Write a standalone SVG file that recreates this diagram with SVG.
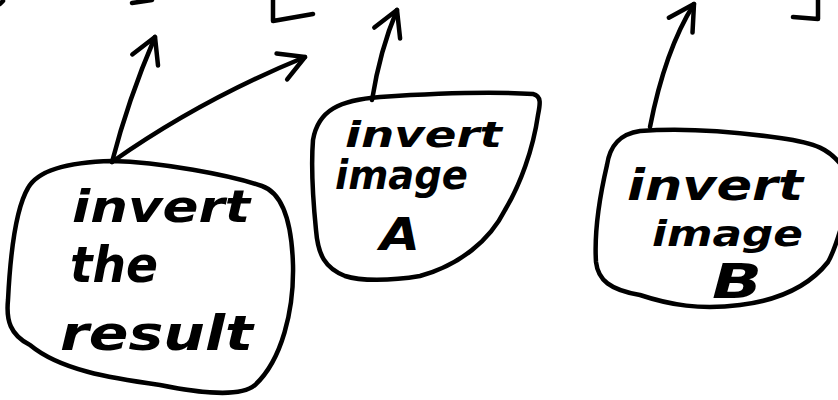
<svg xmlns="http://www.w3.org/2000/svg" width="838" height="400" viewBox="0 0 838 400">
<defs>
<style>
.ink{fill:none;stroke:#000;stroke-width:4.5;stroke-linecap:round;stroke-linejoin:round}
.hand{font-family:"DejaVu Sans","Liberation Sans",sans-serif;font-style:oblique;font-weight:bold;fill:#000}
</style>
<marker id="head" markerUnits="userSpaceOnUse" viewBox="-30 -18 34 36" refX="0" refY="0" markerWidth="34" markerHeight="36" orient="auto">
<path d="M-25,-14 L0,0 L-25,14" fill="none" stroke="#000" stroke-width="4.5" stroke-linecap="round" stroke-linejoin="round"/>
</marker>
</defs>
<rect width="838" height="400" fill="#fff"/>
<g id="fragments">
<path class="ink" d="M0,4 L3,1"/>
<path class="ink" d="M132,3 L152,0"/>
<path class="ink" d="M273,0 L273,21 L313,14"/>
<path class="ink" d="M818,0 L818,19 L793,17"/>
</g>
<g id="connectors">
<path class="ink" d="M112,162 Q128,100 155,37" marker-end="url(#head)"/>
<path class="ink" d="M112,162 Q200,100 305,57" marker-end="url(#head)"/>
<path class="ink" d="M372,100 Q380,50 397,10" marker-end="url(#head)"/>
<path class="ink" d="M650,127 Q665,50 694,4" marker-end="url(#head)"/>
</g>
<g id="node-invert-result">
<path class="ink" d="M112,161 C160,162 230,175 262,186 C285,194 292,230 293,265 C294,310 282,360 255,385 C240,398 200,393 160,385 C110,378 60,370 30,345 C10,335 6,320 8,300 C10,260 15,210 28,188 C38,170 70,162 112,161 Z"/>
<text class="hand" x="72" y="222" font-size="44" textLength="178" lengthAdjust="spacingAndGlyphs">invert</text>
<text class="hand" x="70" y="282" font-size="50" textLength="88" lengthAdjust="spacingAndGlyphs">the</text>
<text class="hand" x="60" y="350" font-size="48" textLength="193" lengthAdjust="spacingAndGlyphs">result</text>
</g>
<g id="node-invert-a">
<path class="ink" d="M313,140 C318,110 340,100 380,97 C440,93 500,92 533,94 C542,96 540,105 538,115 C533,150 520,185 505,210 C490,240 460,265 420,276 C390,281 360,281 345,276 C325,268 318,255 316,230 C313,200 311,165 313,140 Z"/>
<text class="hand" x="345" y="147" font-size="36" textLength="157" lengthAdjust="spacingAndGlyphs">invert</text>
<text class="hand" x="335" y="189" font-size="40" textLength="133" lengthAdjust="spacingAndGlyphs">image</text>
<text class="hand" x="380" y="250" font-size="44" textLength="40" lengthAdjust="spacingAndGlyphs">A</text>
</g>
<g id="node-invert-b">
<path class="ink" d="M845,170 C830,148 815,143 780,138 C730,131 680,128 640,131 C620,134 610,145 607,165 C600,195 594,230 596,262 C598,280 610,290 640,295 C670,305 700,310 740,305 C780,300 810,285 828,262 C836,248 840,230 845,215"/>
<text class="hand" x="627" y="200" font-size="42" textLength="176" lengthAdjust="spacingAndGlyphs">invert</text>
<text class="hand" x="652" y="246" font-size="36" textLength="151" lengthAdjust="spacingAndGlyphs">image</text>
<text class="hand" x="712" y="298" font-size="48" textLength="50" lengthAdjust="spacingAndGlyphs">B</text>
</g>
</svg>
